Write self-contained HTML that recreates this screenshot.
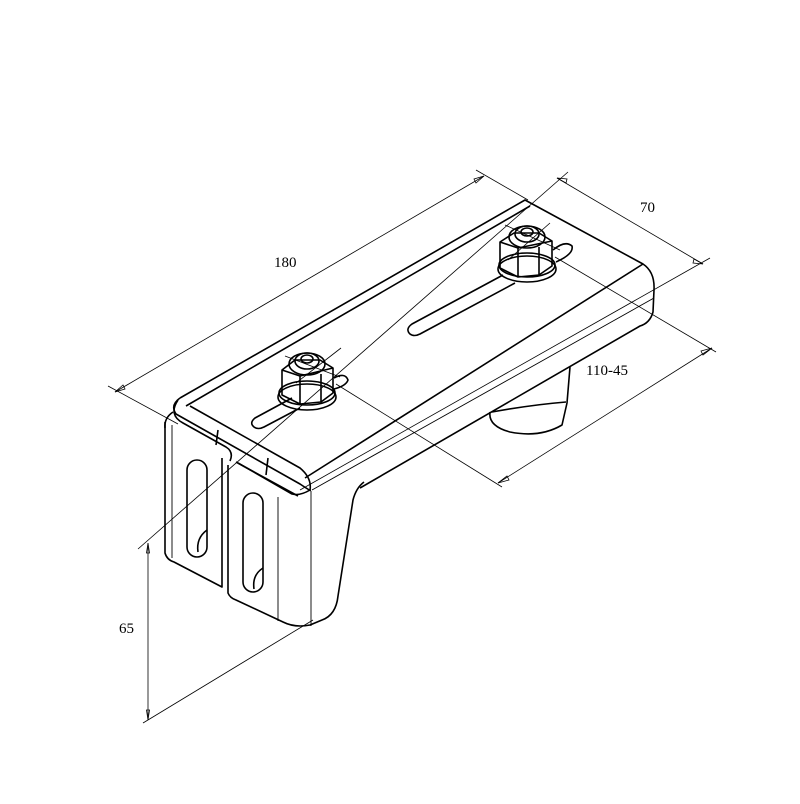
<!DOCTYPE html>
<html><head><meta charset="utf-8"><style>
html,body{margin:0;padding:0;background:#fff}
svg{display:block}
text{font-family:"Liberation Serif",serif;font-size:15px;fill:#000}
</style></head><body>
<svg width="800" height="804" viewBox="0 0 800 804" xmlns="http://www.w3.org/2000/svg">
<g fill="none" stroke="#000" stroke-width="0.8">
<line x1="115" y1="392" x2="484" y2="176"/>
<line x1="108" y1="386" x2="178" y2="424"/>
<line x1="476" y1="170" x2="528" y2="200"/>
<path d="M115 392 l10 -3 l-2 -4 z M484 176 l-10 3 l2 4 z"/>
<line x1="557" y1="178" x2="703" y2="264"/>
<line x1="138" y1="549" x2="568" y2="172"/>
<line x1="300" y1="490" x2="710" y2="258"/>
<path d="M557 178 l9 5 l1 -4 z M703 264 l-9 -5 l-1 4 z"/>
<line x1="498" y1="483" x2="712" y2="348"/>
<line x1="336" y1="384" x2="502" y2="487"/>
<line x1="555" y1="257" x2="716" y2="352"/>
<path d="M498 483 l9 -7 l2 4 z M712 348 l-9 7 l-2 -4 z"/>
<line x1="148" y1="543" x2="148" y2="720"/>
<line x1="143" y1="723" x2="313" y2="620"/>
<path d="M148 543 l-1.5 10 h3 z M148 720 l-1.5 -10 h3 z"/>
<line x1="285" y1="356" x2="340" y2="377"/>
<line x1="296" y1="383" x2="341" y2="348"/>
<line x1="505" y1="225" x2="560" y2="250"/>
<line x1="508" y1="260" x2="550" y2="223"/>
</g>
<g fill="none" stroke="#000" stroke-width="1.6" stroke-linejoin="round">
<path d="M180 398 L525 200 L643 264 Q655 272 654 290 L653 312 Q650 323 640 326 L360 488"/>
<line x1="186" y1="406" x2="530" y2="206"/>
<path d="M305 478 L643 264"/>
<path d="M312 490 L654 298" stroke-width="0.9"/>
<path d="M180 398 Q170 405 176 414 L300 484 Q312 492 310 490"/>
<path d="M178 400 Q168 415 183 423 L226 447 Q234 452 230 461 M236 462 L298 496"/>
<path d="M190 406 L300 468 Q312 478 310 490 Q300 496 292 494 L238 463"/>
<path d="M173 412 Q164 418 165 428"/>
<line x1="218" y1="430" x2="216" y2="445"/>
<line x1="268" y1="458" x2="266" y2="475"/>
<path d="M165 422 L165 553 Q167 560 174 562 L222 587 L222 458"/>
<line x1="172" y1="425" x2="172" y2="558" stroke-width="0.9"/>
<path d="M228 465 L228 593 Q230 598 236 600 L283 622 Q295 628 310 625 L322 620 Q336 615 338 596 L353 500 Q356 488 364 482"/>
<line x1="278" y1="497" x2="278" y2="621" stroke-width="0.9"/>
<line x1="311" y1="491" x2="311" y2="626" stroke-width="0.9"/>
<rect x="187" y="460" width="20" height="97" rx="10"/>
<rect x="243" y="493" width="20" height="99" rx="10"/>
<path d="M207 530 Q196 538 198 552"/>
<path d="M263 568 Q252 575 254 589"/>
<path d="M570 367 L567 403 L562 425 Q540 438 510 432 Q488 426 490 412"/>
<path d="M492 412 Q530 405 566 402"/>
<path d="M292 398 L255 418 Q249 423 254 427 Q258 430 264 427 L300 408"/>
<path d="M503 275 L412 324 Q405 329 410 334 Q414 337 420 334 L515 283"/>
<!-- nut 1 -->
<ellipse cx="307" cy="397" rx="29" ry="13"/>
<ellipse cx="307" cy="393" rx="28" ry="12"/>
<path d="M334 378 Q345 372 348 380 Q346 386 334 389"/>
<path d="M282 370 L282 395 L300 404 L321 402 L333 393 L333 368 L320 360 L295 360 Z M282 370 L300 376 L333 368 M300 376 L300 404 M321 374 L321 402"/>
<ellipse cx="307" cy="364" rx="18" ry="11"/>
<ellipse cx="307" cy="361" rx="12" ry="8"/>
<ellipse cx="307" cy="359" rx="6" ry="4"/>
<!-- nut 2 -->
<ellipse cx="527" cy="269" rx="29" ry="13"/>
<ellipse cx="527" cy="265" rx="28" ry="12"/>
<path d="M553 250 Q565 240 572 246 Q574 254 556 262"/>
<path d="M500 242 L500 268 L518 277 L539 275 L552 266 L552 241 L539 233 L514 233 Z M500 242 L518 248 L552 241 M518 248 L518 277 M539 247 L539 275"/>
<ellipse cx="527" cy="237" rx="18" ry="11"/>
<ellipse cx="527" cy="234" rx="12" ry="8"/>
<ellipse cx="527" cy="232" rx="6" ry="4"/>
</g>
<text x="274" y="267">180</text>
<text x="640" y="212">70</text>
<text x="586" y="375">110-45</text>
<text x="119" y="633">65</text>
</svg>
</body></html>
